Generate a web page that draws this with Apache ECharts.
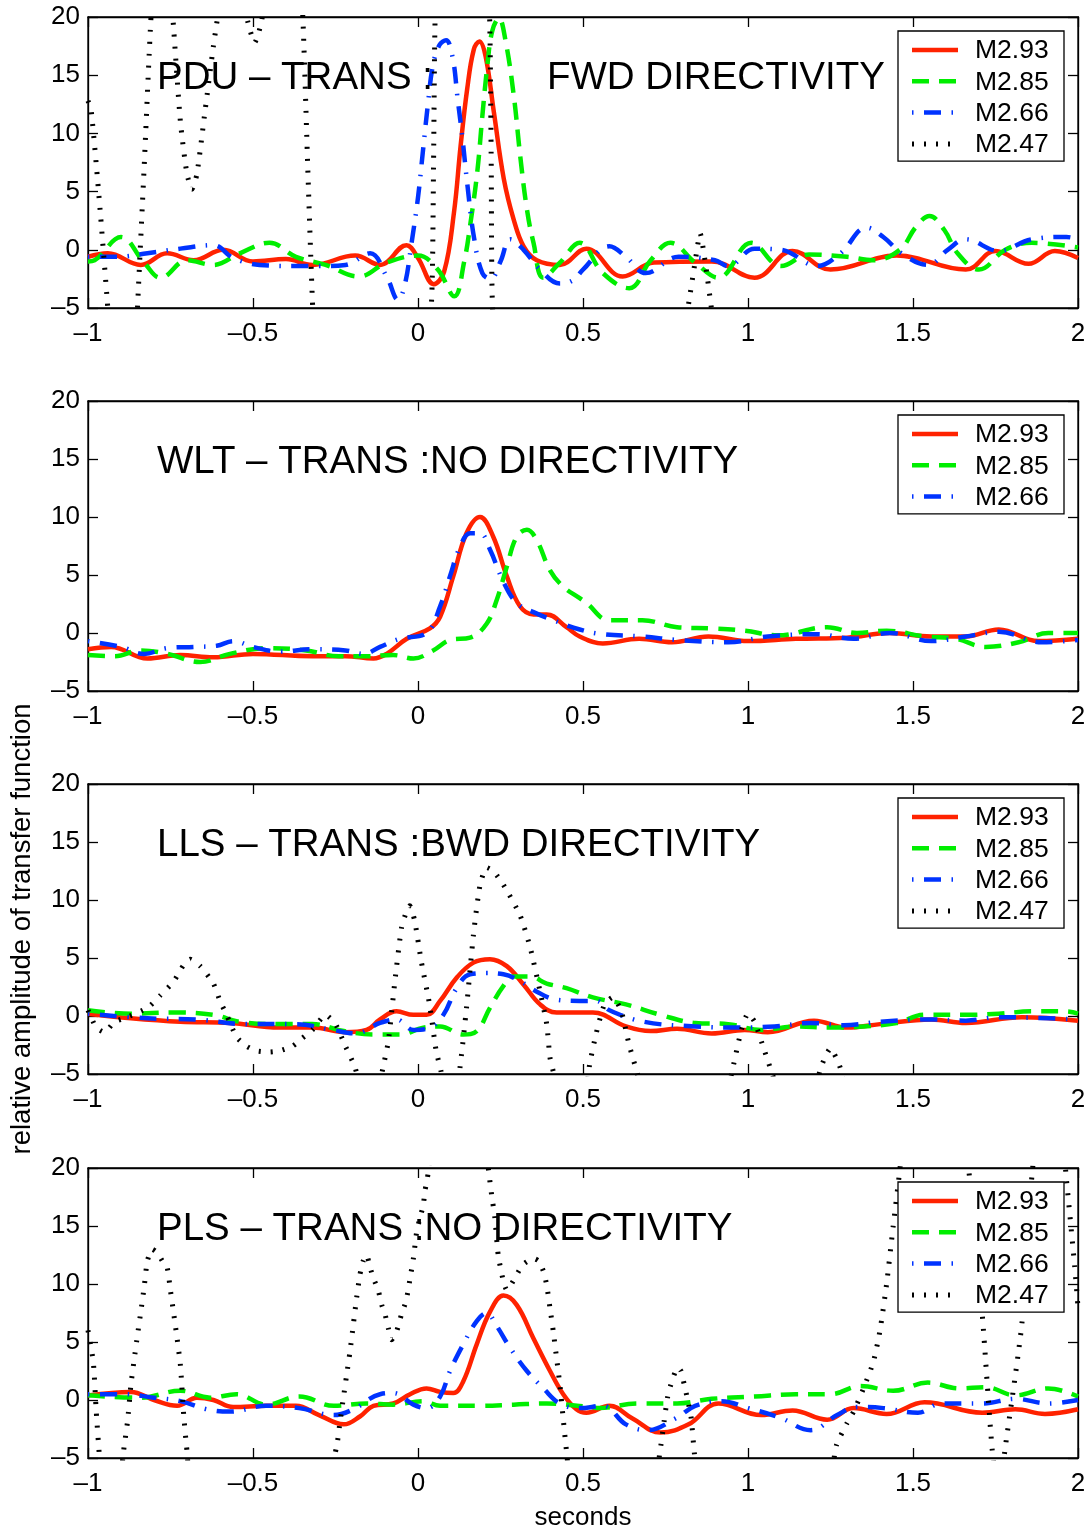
<!DOCTYPE html>
<html><head><meta charset="utf-8">
<script src="https://cdn.jsdelivr.net/npm/echarts/dist/echarts.min.js"></script>
<style>html,body{margin:0;padding:0;background:#fff}#c{width:1092px;height:1529px}</style>
</head><body><div id="c"></div>
<script>
// ---------- DATA ----------
const xTicks = [-1, -0.5, 0, 0.5, 1, 1.5, 2];
const yTicks = [-5, 0, 5, 10, 15, 20];
const seriesNames = ['M2.93', 'M2.85', 'M2.66', 'M2.47'];
const panelTitles = ['PDU \u2013 TRANS :', 'WLT \u2013 TRANS :NO DIRECTIVITY', 'LLS \u2013 TRANS :BWD DIRECTIVITY', 'PLS \u2013 TRANS :NO DIRECTIVITY'];
const pduTitleTail = 'FWD DIRECTIVITY';
const yAxisTitle = 'relative amplitude of transfer function';
const xAxisTitle = 'seconds';

// Panel 1: PDU
const pdu_m293 = [[-1,-0.6],[-0.94,-0.3],[-0.84,-1.3],[-0.76,-0.3],[-0.68,-0.9],[-0.59,0],[-0.5,-1.0],[-0.40,-0.8],[-0.32,-1.3],[-0.19,-0.5],[-0.115,-1.3],[-0.035,0.4],[0,-0.7],[0.048,-2.95],[0.079,-1.9],[0.109,3.2],[0.129,8.9],[0.149,13.8],[0.169,17.2],[0.186,17.9],[0.205,16.6],[0.23,11.8],[0.26,6.1],[0.29,2.6],[0.32,0.3],[0.36,-0.9],[0.43,-1.3],[0.51,0.1],[0.62,-2.3],[0.715,-1.1],[0.89,-1.0],[1.02,-2.4],[1.135,-0.1],[1.25,-1.7],[1.45,-0.5],[1.66,-1.7],[1.75,-0.1],[1.85,-1.2],[1.93,-0.1],[2,-0.7]];
const pdu_m285 = [[-1,-1.0],[-0.98,-0.9],[-0.90,1.1],[-0.83,-1.1],[-0.78,-2.4],[-0.70,-0.9],[-0.62,-1.3],[-0.54,-0.3],[-0.45,0.6],[-0.37,-0.6],[-0.28,-1.3],[-0.18,-2.3],[-0.095,-1.1],[0,-0.5],[0.06,-1.7],[0.11,-4.0],[0.14,-1.0],[0.16,2.5],[0.18,6.8],[0.195,11.5],[0.21,15.8],[0.225,18.8],[0.245,19.9],[0.265,18.0],[0.29,13.3],[0.31,8],[0.33,3.5],[0.35,0.6],[0.38,-2.4],[0.43,-1.1],[0.49,0.6],[0.56,-2.0],[0.64,-3.3],[0.705,-0.9],[0.765,0.6],[0.84,-1.1],[0.91,-2.4],[1.01,0.6],[1.10,-1.4],[1.185,-0.4],[1.30,-0.6],[1.38,-0.9],[1.46,0],[1.51,2.0],[1.55,2.9],[1.595,1.7],[1.635,-0.3],[1.70,-1.7],[1.78,0],[1.86,0.6],[2.0,0.2]];
const pdu_m266 = [[-1,-0.6],[-0.91,-0.6],[-0.82,-0.3],[-0.72,0.1],[-0.62,0.4],[-0.56,-0.7],[-0.48,-1.3],[-0.37,-1.4],[-0.30,-1.4],[-0.22,-1.3],[-0.145,-0.3],[-0.095,-2.3],[-0.06,-4.3],[-0.04,-3.0],[-0.02,0.5],[0,4.5],[0.015,8.5],[0.03,12.5],[0.045,15.8],[0.065,17.6],[0.085,18.0],[0.105,16.5],[0.12,13],[0.135,9.5],[0.15,5.5],[0.17,1.0],[0.195,-2.0],[0.22,-2.5],[0.25,-1.0],[0.28,0.9],[0.32,0],[0.37,-1.7],[0.43,-2.9],[0.47,-2.6],[0.50,-1.7],[0.58,0.3],[0.63,-0.6],[0.69,-2.0],[0.79,-0.6],[0.90,-0.9],[0.94,-1.4],[1.02,0.1],[1.10,0],[1.21,-1.4],[1.28,-0.3],[1.36,1.9],[1.41,1.1],[1.47,-0.4],[1.545,-1.3],[1.605,0],[1.66,0.9],[1.76,-0.1],[1.86,0.9],[1.965,1.1],[2.0,0.9]];
const pdu_m247 = [[-1,12.8],[-0.99,11.9],[-0.965,4],[-0.94,-5],[-0.92,-13],[-0.89,-16],[-0.86,-12],[-0.85,-5],[-0.83,7],[-0.81,19.5],[-0.79,28],[-0.765,28],[-0.743,20],[-0.72,11],[-0.70,6.5],[-0.685,5.2],[-0.67,6.5],[-0.645,12],[-0.62,17.5],[-0.607,20],[-0.58,25],[-0.54,23],[-0.515,19.5],[-0.495,17.8],[-0.475,19.5],[-0.45,24],[-0.40,28],[-0.36,24],[-0.349,20],[-0.334,7],[-0.319,-5],[-0.30,-14],[-0.2,-18],[-0.1,-18],[0.0,-14],[0.04,-5],[0.047,7],[0.052,20],[0.07,30],[0.13,34],[0.2,30],[0.217,20],[0.222,7],[0.226,-5],[0.26,-16],[0.5,-20],[0.75,-14],[0.80,-8],[0.818,-5],[0.84,-1],[0.855,1.4],[0.87,-1],[0.889,-5],[0.92,-12],[1.2,-20],[1.6,-18],[2.0,-15]];

// Panel 2: WLT
const wlt_m293 = [[-1,-1.4],[-0.93,-1.2],[-0.82,-2.2],[-0.72,-1.9],[-0.62,-2.1],[-0.5,-1.8],[-0.32,-2.0],[-0.22,-2.0],[-0.135,-2.2],[-0.095,-1.8],[-0.034,-0.5],[0.036,0.4],[0.067,1.4],[0.107,4.9],[0.147,8.6],[0.188,10.0],[0.228,8.3],[0.269,4.9],[0.309,2.3],[0.35,1.6],[0.39,1.6],[0.45,0.5],[0.49,-0.3],[0.56,-0.9],[0.67,-0.5],[0.77,-0.8],[0.88,-0.3],[1.0,-0.7],[1.145,-0.5],[1.30,-0.4],[1.43,0],[1.555,-0.3],[1.66,-0.3],[1.76,0.3],[1.88,-0.7],[2,-0.5]];
const wlt_m285 = [[-1,-1.9],[-0.92,-2.0],[-0.84,-1.5],[-0.76,-1.8],[-0.66,-2.5],[-0.57,-1.8],[-0.46,-1.3],[-0.34,-1.5],[-0.24,-2.0],[-0.155,-2.0],[-0.075,-1.9],[-0.014,-2.2],[0.046,-1.5],[0.097,-0.6],[0.158,-0.4],[0.208,0.8],[0.238,2.8],[0.269,5.7],[0.299,8.3],[0.33,8.9],[0.36,8.0],[0.40,5.4],[0.44,4.0],[0.49,3.0],[0.51,2.6],[0.58,1.1],[0.68,1.1],[0.785,0.5],[0.89,0.4],[0.99,0.2],[1.09,-0.2],[1.24,0.5],[1.33,0],[1.42,0.2],[1.535,-0.3],[1.63,-0.5],[1.72,-1.2],[1.82,-0.8],[1.91,0],[2,0]];
const wlt_m266 = [[-1,-0.7],[-0.90,-1.2],[-0.83,-1.8],[-0.76,-1.3],[-0.68,-1.2],[-0.61,-1.1],[-0.56,-0.7],[-0.5,-1.2],[-0.42,-1.6],[-0.32,-1.4],[-0.22,-1.5],[-0.165,-1.8],[-0.115,-1.2],[-0.055,-0.5],[0.026,0],[0.067,2.3],[0.097,4.9],[0.127,7.4],[0.158,8.6],[0.188,8.6],[0.218,7.2],[0.259,4.4],[0.299,2.6],[0.35,1.8],[0.41,1.1],[0.49,0.3],[0.56,-0.1],[0.68,-0.3],[0.785,-0.6],[0.94,-0.8],[1.06,-0.3],[1.21,-0.1],[1.32,-0.5],[1.43,0],[1.555,-0.7],[1.66,-0.3],[1.76,0.1],[1.89,-0.8],[2,-0.6]];

// Panel 3: LLS
const lls_m293 = [[-1,0.2],[-0.87,-0.2],[-0.72,-0.5],[-0.57,-0.6],[-0.42,-1.0],[-0.32,-1.0],[-0.22,-1.4],[-0.156,-1.2],[-0.115,-0.3],[-0.065,0.4],[-0.014,0.1],[0.026,0.1],[0.067,1.3],[0.117,3.3],[0.168,4.6],[0.218,4.9],[0.269,4.3],[0.32,2.7],[0.37,1.0],[0.42,0.3],[0.49,0.3],[0.53,0.3],[0.63,-0.9],[0.705,-1.3],[0.785,-1.1],[0.89,-1.5],[0.99,-1.2],[1.06,-1.4],[1.2,-0.4],[1.30,-1.0],[1.40,-0.7],[1.555,-0.3],[1.66,-0.6],[1.83,-0.1],[2,-0.4]];
const lls_m285 = [[-1,0.5],[-0.87,0.2],[-0.74,0.3],[-0.62,0.1],[-0.54,-0.5],[-0.42,-0.7],[-0.32,-0.7],[-0.225,-1.3],[-0.135,-1.6],[-0.055,-1.6],[0.016,-1.0],[0.067,-0.9],[0.137,-1.6],[0.178,-1.3],[0.218,0.7],[0.259,2.6],[0.289,3.4],[0.34,3.4],[0.39,2.8],[0.45,2.4],[0.53,1.6],[0.63,1.0],[0.735,0.1],[0.84,-0.6],[0.94,-0.7],[1.04,-1.2],[1.145,-0.9],[1.25,-1.0],[1.35,-0.9],[1.45,-0.6],[1.535,0.1],[1.66,0.1],[1.76,0.2],[1.86,0.4],[1.965,0.4],[2,0.2]];
const lls_m266 = [[-1,0.2],[-0.82,-0.2],[-0.67,-0.3],[-0.52,-0.7],[-0.37,-0.7],[-0.26,-1.2],[-0.19,-1.5],[-0.115,-0.6],[-0.065,-0.3],[-0.014,-1.2],[0.036,-1.0],[0.077,0.1],[0.117,2.4],[0.158,3.6],[0.208,3.7],[0.259,3.6],[0.31,3.0],[0.36,2.1],[0.42,1.4],[0.49,1.3],[0.54,1.3],[0.58,0.5],[0.685,-0.5],[0.84,-0.9],[0.97,-1.0],[1.08,-0.9],[1.19,-0.6],[1.29,-0.8],[1.40,-0.5],[1.555,-0.3],[1.66,-0.4],[1.76,-0.1],[1.91,-0.2],[2,-0.3]];
const lls_m247 = [[-1,0.5],[-0.975,-1.0],[-0.95,-1.4],[-0.92,-0.5],[-0.89,-0.2],[-0.82,0.7],[-0.78,1.8],[-0.74,3.0],[-0.71,4.4],[-0.69,4.9],[-0.66,4.3],[-0.62,2.8],[-0.60,1.3],[-0.58,0.1],[-0.55,-1.8],[-0.52,-2.6],[-0.49,-3.0],[-0.45,-3.1],[-0.42,-3.0],[-0.38,-2.6],[-0.35,-1.9],[-0.32,-1.2],[-0.28,0.1],[-0.25,-0.7],[-0.22,-2.6],[-0.19,-4.5],[-0.16,-8],[-0.13,-8.5],[-0.11,-5],[-0.09,-2.2],[-0.07,3],[-0.05,7.6],[-0.035,9.0],[-0.025,9.5],[-0.01,8.2],[0.01,4.7],[0.035,1.0],[0.055,-3.0],[0.07,-4.8],[0.09,-8],[0.11,-7.5],[0.127,-4.5],[0.147,0.7],[0.168,7.0],[0.188,11.3],[0.208,12.8],[0.228,12.5],[0.259,11.3],[0.309,8.7],[0.34,5.9],[0.37,2.1],[0.39,-0.7],[0.40,-3.6],[0.41,-4.8],[0.45,-10],[0.49,-10],[0.52,-4.2],[0.54,-1.5],[0.565,1.0],[0.59,1.6],[0.615,0.5],[0.64,-2.5],[0.665,-5],[0.72,-11],[0.9,-11],[0.95,-5],[0.98,-1.2],[1.0,0.2],[1.02,-0.5],[1.05,-3],[1.08,-5.5],[1.13,-9],[1.19,-8],[1.22,-4.5],[1.25,-2.8],[1.28,-4.5],[1.32,-9],[1.6,-14],[2.0,-12]];

// Panel 4: PLS
const pls_m293 = [[-1,0.4],[-0.87,0.7],[-0.80,0],[-0.73,-0.5],[-0.67,0.2],[-0.62,0],[-0.56,-0.6],[-0.46,-0.5],[-0.37,-0.5],[-0.30,-1.3],[-0.225,-2.1],[-0.175,-1.4],[-0.135,-0.5],[-0.075,-0.3],[-0.024,0.5],[0.026,1.0],[0.067,0.7],[0.107,0.6],[0.137,1.6],[0.178,4.8],[0.218,7.6],[0.259,9.0],[0.299,8.2],[0.35,5.3],[0.40,2.5],[0.44,0.5],[0.48,-0.8],[0.51,-1.1],[0.58,-0.5],[0.65,-1.6],[0.735,-2.8],[0.82,-2.1],[0.91,-0.3],[1.04,-1.3],[1.135,-0.9],[1.24,-1.7],[1.32,-0.7],[1.42,-1.2],[1.535,-0.2],[1.71,-1.1],[1.81,-0.8],[1.90,-1.2],[2,-0.8]];
const pls_m285 = [[-1,0.4],[-0.84,0.2],[-0.72,0.8],[-0.63,0.2],[-0.55,0.5],[-0.46,-0.4],[-0.36,0.3],[-0.255,-0.5],[-0.155,-0.3],[-0.075,-0.4],[0.016,-0.1],[0.067,-0.5],[0.188,-0.5],[0.29,-0.4],[0.39,-0.3],[0.52,-0.6],[0.55,-0.7],[0.665,-0.3],[0.785,-0.3],[0.89,0.1],[1.02,0.3],[1.145,0.5],[1.25,0.5],[1.34,1.2],[1.44,0.8],[1.545,1.5],[1.64,1.0],[1.72,1.1],[1.81,0.4],[1.91,1.0],[2,0.3]];
const pls_m266 = [[-1,0.5],[-0.89,0.5],[-0.80,0.2],[-0.72,-0.1],[-0.64,-0.8],[-0.57,-1.0],[-0.46,-0.5],[-0.36,-0.7],[-0.255,-1.3],[-0.196,-0.8],[-0.115,0.5],[-0.075,0.6],[-0.014,-0.4],[0.026,-0.7],[0.067,0.3],[0.097,2.5],[0.137,4.8],[0.178,6.8],[0.208,7.5],[0.238,6.4],[0.279,4.5],[0.33,2.5],[0.38,1.0],[0.43,-0.3],[0.49,-0.7],[0.56,-0.5],[0.63,-2.1],[0.695,-2.6],[0.78,-1.6],[0.84,-0.5],[0.92,-0.1],[1.0,-0.7],[1.095,-1.5],[1.19,-2.6],[1.27,-1.3],[1.33,-0.6],[1.41,-0.7],[1.515,-1.1],[1.585,-0.3],[1.71,-0.3],[1.81,0.1],[1.91,-0.3],[2,0]];
const pls_m247 = [[-1,6],[-0.984,3.3],[-0.975,-1.0],[-0.965,-5],[-0.95,-10],[-0.92,-10],[-0.89,-3.9],[-0.88,-1.8],[-0.87,1.3],[-0.86,3.5],[-0.85,5.6],[-0.84,7.6],[-0.83,9.7],[-0.82,12.0],[-0.805,13.0],[-0.79,12.7],[-0.775,12.0],[-0.76,11.4],[-0.75,9.4],[-0.74,7.4],[-0.73,5.3],[-0.72,3.0],[-0.71,-1.3],[-0.70,-4.4],[-0.68,-9],[-0.5,-13],[-0.3,-10],[-0.246,-3.9],[-0.236,-1.8],[-0.226,0.2],[-0.216,2.2],[-0.206,4.2],[-0.196,6.5],[-0.186,8.8],[-0.176,10.8],[-0.166,12.0],[-0.156,12.5],[-0.145,11.4],[-0.135,10.5],[-0.12,9.4],[-0.11,8.2],[-0.1,7.4],[-0.09,6.2],[-0.08,5.2],[-0.065,5.9],[-0.05,7.4],[-0.04,8.2],[-0.03,9.4],[-0.024,10.5],[-0.014,12.2],[-0.004,14.5],[0.006,15.7],[0.016,16.8],[0.021,18.0],[0.031,19.6],[0.06,27],[0.12,31],[0.18,28],[0.213,20],[0.223,17.7],[0.233,15.7],[0.243,12.5],[0.259,10.2],[0.269,9.5],[0.279,9.8],[0.299,10.8],[0.319,11.7],[0.35,12.2],[0.365,12.0],[0.38,11.1],[0.39,9.9],[0.40,7.9],[0.41,5.9],[0.42,3.6],[0.43,1.3],[0.44,-1.6],[0.45,-4.4],[0.48,-11],[0.6,-14],[0.7,-10],[0.736,-3.9],[0.746,-1.8],[0.756,0.2],[0.766,1.3],[0.787,2.8],[0.797,2.5],[0.807,1.3],[0.818,-0.1],[0.828,-1.6],[0.838,-4.7],[0.87,-11],[1.0,-15],[1.2,-12],[1.25,-7],[1.268,-3.9],[1.3,-2],[1.32,-1.0],[1.35,1.0],[1.38,3.3],[1.40,6.0],[1.42,10],[1.44,15],[1.46,19.8],[1.48,25],[1.55,30],[1.62,27],[1.668,20],[1.71,7.3],[1.74,-4.3],[1.76,-8],[1.78,-4.0],[1.83,6.6],[1.86,19.2],[1.9,28],[1.94,26],[1.965,19],[1.99,11.5],[2.0,8]];

// ---------- LAYOUT / STYLE ----------
const FF = '"Liberation Sans", Arial, Helvetica, sans-serif';
const gridTops = [17, 401, 784, 1168];
const gridHeights = [291, 290, 290, 290];
const GL = 88, GW = 990;
const lineStyles = {
  'M2.93': {color: '#ff2200', width: 4.5, type: 'solid', dash: null, z: 3},
  'M2.85': {color: '#00ee00', width: 4.5, type: [17, 10], dash: [17, 10], z: 4},
  'M2.66': {color: '#0033ff', width: 4.5, type: [1.5, 10.5, 17, 10.5], dash: [1.5, 10.5, 17, 10.5], z: 5},
  'M2.47': {color: '#000000', width: 5, type: [2, 10], dash: [2, 10], z: 6}
};
const panels = [
  {data: [pdu_m293, pdu_m285, pdu_m266, pdu_m247]},
  {data: [wlt_m293, wlt_m285, wlt_m266]},
  {data: [lls_m293, lls_m285, lls_m266, lls_m247]},
  {data: [pls_m293, pls_m285, pls_m266, pls_m247]}
];
const fmt = v => (v < 0 ? '\u2013' + String(-v) : String(v));

const grid = [], xAxis = [], yAxis = [], series = [], graphic = [];
const axisLineS = {show: true, onZero: false, lineStyle: {color: '#000', width: 1.3}};
const tickS = {show: true, inside: true, length: 10, lineStyle: {color: '#000', width: 1.3}};
const labelS = {show: true, fontSize: 26, color: '#000', fontFamily: FF};

panels.forEach((p, i) => {
  grid.push({left: GL, top: gridTops[i], width: GW, height: gridHeights[i], show: true,
    borderColor: '#000', borderWidth: 1.3, backgroundColor: '#fff', containLabel: false, outerBoundsMode: 'none'});
  const xb = {gridIndex: i, type: 'value', position: 'bottom', min: xTicks[0], max: xTicks[xTicks.length - 1], interval: 0.5,
    axisLine: axisLineS, axisTick: tickS, splitLine: {show: false},
    axisLabel: Object.assign({}, labelS, {margin: 13, formatter: fmt, showMinLabel: true, showMaxLabel: true})};
  if (i === 3) {
    Object.assign(xb, {name: xAxisTitle, nameLocation: 'middle', nameGap: 47,
      nameTextStyle: {fontSize: 26, color: '#000', fontFamily: FF}});
  }
  xAxis.push(xb);
  xAxis.push({gridIndex: i, type: 'value', position: 'top', min: xTicks[0], max: xTicks[xTicks.length - 1], interval: 0.5,
    axisLine: axisLineS, axisTick: tickS, splitLine: {show: false}, axisLabel: {show: false}});
  const yl = {gridIndex: i, type: 'value', position: 'left', min: yTicks[0], max: yTicks[yTicks.length - 1], interval: 5,
    axisLine: axisLineS, axisTick: tickS, splitLine: {show: false},
    axisLabel: Object.assign({}, labelS, {margin: 8, formatter: fmt, showMinLabel: true, showMaxLabel: true})};
  if (i === 2) {
    Object.assign(yl, {name: yAxisTitle, nameLocation: 'middle', nameGap: 52,
      nameTextStyle: {fontSize: 27.5, color: '#000', fontFamily: FF}});
  }
  yAxis.push(yl);
  yAxis.push({gridIndex: i, type: 'value', position: 'right', min: yTicks[0], max: yTicks[yTicks.length - 1], interval: 5,
    axisLine: axisLineS, axisTick: tickS, splitLine: {show: false}, axisLabel: {show: false}});

  p.data.forEach((d, k) => {
    const nm = seriesNames[k];
    const st = lineStyles[nm];
    series.push({
      name: nm, type: 'line', xAxisIndex: 2 * i, yAxisIndex: 2 * i, data: d,
      symbol: 'none', showSymbol: false, smooth: nm === 'M2.47' ? 0.2 : 0.4, clip: true, z: st.z,
      lineStyle: {color: st.color, width: st.width, type: st.type, cap: 'butt', join: 'round'},
      itemStyle: {color: st.color}, emphasis: {disabled: true}, animation: false
    });
  });

  // titles
  const ty = gridTops[i] + 61;
  graphic.push({type: 'text', x: 157, y: ty, z: 50,
    style: {text: panelTitles[i], fill: '#000', fontSize: 38.5, fontFamily: FF, verticalAlign: 'middle', textVerticalAlign: 'middle'}});
  if (i === 0) {
    graphic.push({type: 'text', x: 547, y: ty, z: 50,
      style: {text: pduTitleTail, fill: '#000', fontSize: 38.5, fontFamily: FF, verticalAlign: 'middle', textVerticalAlign: 'middle'}});
  }

  // legend box
  const n = p.data.length;
  const bx = 898, bw = 166, by = gridTops[i] + 14, bh = n * 31.3 + 5;
  graphic.push({type: 'rect', shape: {x: bx, y: by, width: bw, height: bh}, z: 60,
    style: {fill: '#fff', stroke: '#000', lineWidth: 1.3}});
  for (let k = 0; k < n; k++) {
    const nm = seriesNames[k], st = lineStyles[nm];
    const cy = by + 19 + k * 31.3;
    graphic.push({type: 'line', shape: {x1: 912, y1: cy, x2: 958, y2: cy}, z: 61,
      style: {stroke: st.color, lineWidth: st.width, lineDash: st.dash, lineCap: 'butt'}});
    graphic.push({type: 'text', x: 975, y: cy + 1, z: 61,
      style: {text: nm, fill: '#000', fontSize: 26.5, fontFamily: FF, verticalAlign: 'middle', textVerticalAlign: 'middle'}});
  }
});

const chart = echarts.init(document.getElementById('c'), null, {renderer: 'canvas', width: 1092, height: 1529});
chart.setOption({
  animation: false,
  backgroundColor: '#fff',
  textStyle: {fontFamily: FF},
  grid, xAxis, yAxis, series, graphic
});
</script></body></html>
